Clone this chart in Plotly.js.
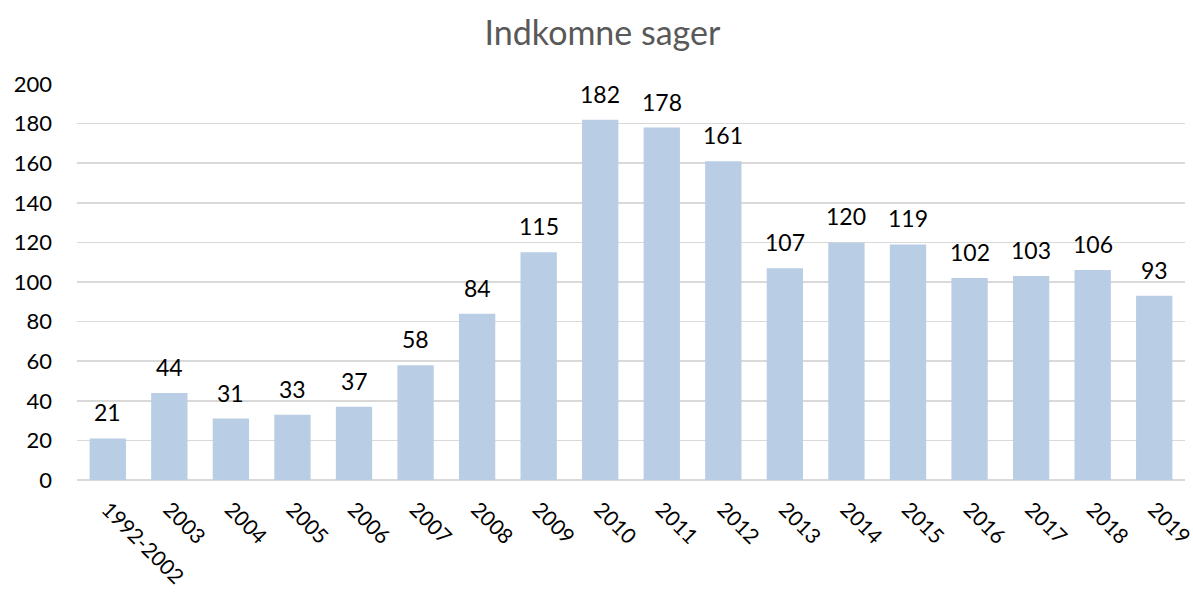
<!DOCTYPE html>
<html>
<head>
<meta charset="utf-8">
<script src="https://cdn.plot.ly/plotly-3.0.1.min.js"></script>
<style>html,body{margin:0;padding:0;background:#fff;}#chart{width:1193px;height:601px;}</style>
</head>
<body>
<div id="chart"></div>
<script>
const categories = ["1992-2002","2003","2004","2005","2006","2007","2008","2009","2010","2011","2012","2013","2014","2015","2016","2017","2018","2019"];
const values = [21,44,31,33,37,58,84,115,182,178,161,107,120,119,102,103,106,93];
const yTicks = [0,20,40,60,80,100,120,140,160,180,200];

const font = "Lato, 'Open Sans', sans-serif";

const labels = categories.map((c, i) => ({
  x: i, y: values[i], text: String(values[i]),
  xref: 'x', yref: 'y', showarrow: false,
  yanchor: 'bottom', yshift: 10,
  font: {family: font, size: 23, color: '#000'}
}));

Plotly.newPlot('chart', [{
  type: 'bar',
  x: categories,
  y: values,
  marker: {color: '#B9CDE5'},
  hoverinfo: 'none'
}], {
  width: 1193, height: 601,
  margin: {l: 77, r: 8, t: 84, b: 121},
  paper_bgcolor: '#fff', plot_bgcolor: '#fff',
  bargap: 0.41,
  showlegend: false,
  annotations: labels,
  title: {text: 'Indkomne sager', x: 0.505, xanchor: 'center', y: 0.945, yanchor: 'middle',
          font: {family: font, size: 34, color: '#595959'}},
  xaxis: {
    type: 'category',
    range: [-0.5, categories.length - 0.5],
    tickangle: 45,
    tickfont: {family: font, size: 21, color: '#000'},
    showgrid: false, showline: false, ticks: '',
    ticklabelstandoff: 12
  },
  yaxis: {
    range: [0, 200],
    tickvals: yTicks,
    tickfont: {family: font, size: 22, color: '#000'},
    showgrid: true, gridcolor: '#D9D9D9', gridwidth: 1.5,
    zeroline: true, zerolinecolor: '#D9D9D9', zerolinewidth: 1.5,
    showline: false, ticks: '',
    ticklabelstandoff: 24
  }
}, {staticPlot: true});
</script>
</body>
</html>
